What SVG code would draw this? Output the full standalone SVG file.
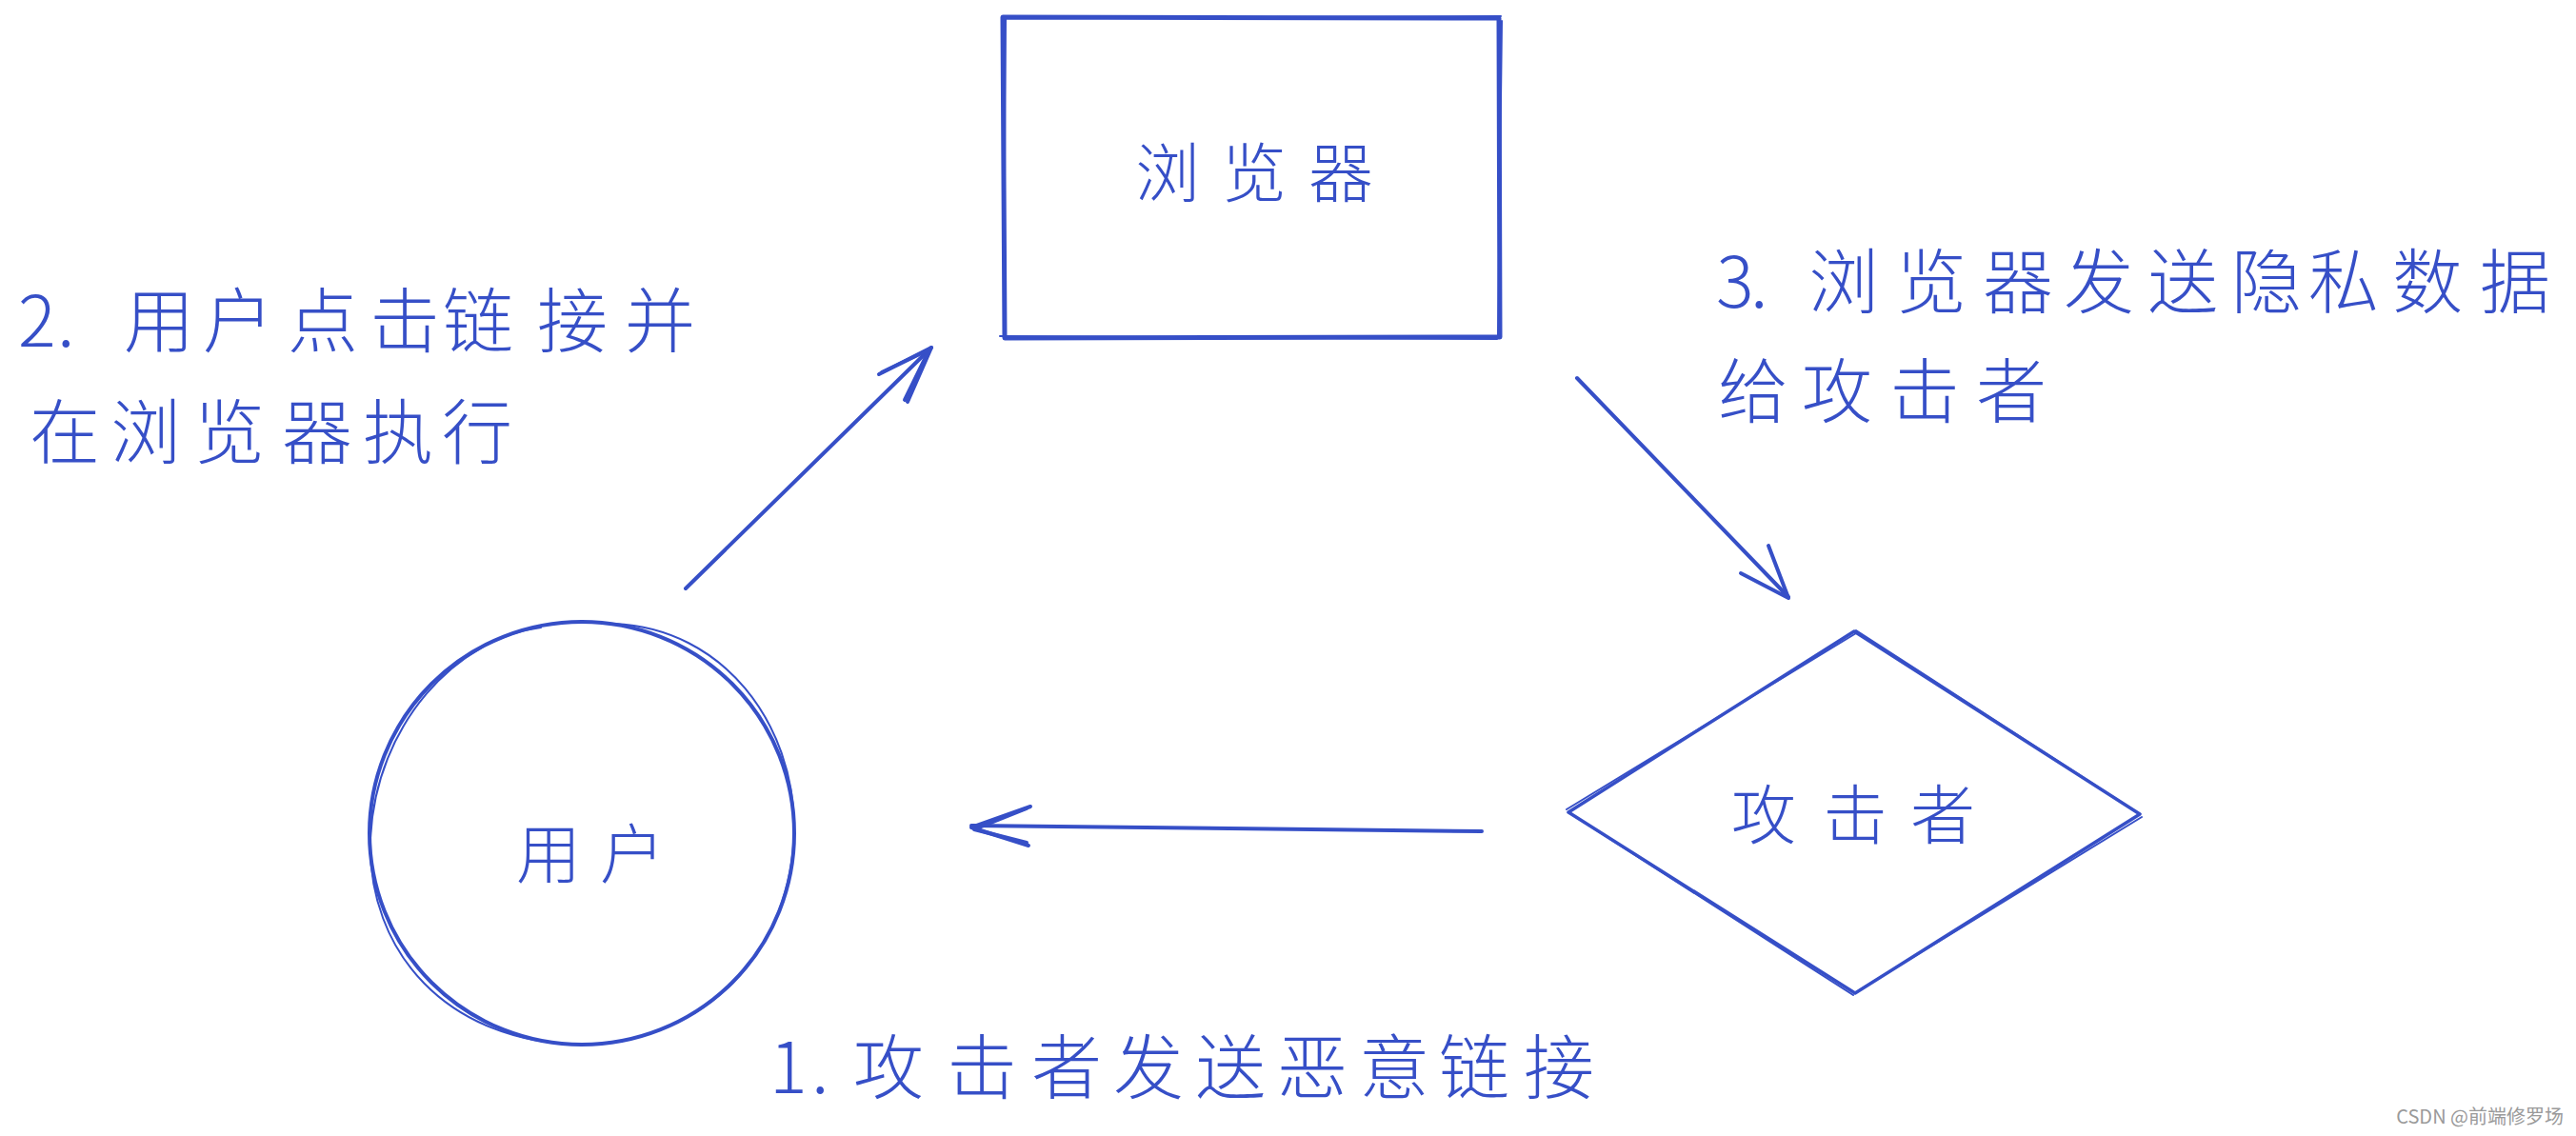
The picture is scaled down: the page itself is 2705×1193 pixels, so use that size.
<svg xmlns="http://www.w3.org/2000/svg" width="2705" height="1193" viewBox="0 0 2705 1193">
  <style>
    .shape { fill: none; stroke: #364fc7; stroke-linecap: round; stroke-linejoin: round; }
    .edge { fill: none; stroke: #364fc7; stroke-width: 4; stroke-linecap: round; stroke-linejoin: round; }
    .lbl { font-family: "Noto Sans CJK SC", "Noto Sans", sans-serif; fill: #364fc7; font-size: 74px; font-weight: 300; dominant-baseline: central; }
    .node-txt { font-family: "Noto Sans CJK SC", "Noto Sans", sans-serif; fill: #364fc7; font-size: 68px; font-weight: 300; dominant-baseline: central; }
    .wm { font-family: "Noto Sans CJK SC", "Liberation Sans", sans-serif; fill: #9a9a9a; font-size: 20px; }
  </style>
  <rect width="2705" height="1193" fill="#ffffff"/>

  <g id="browser">
    <path class="shape" stroke-width="5" d="M1053 18 L1574 19 L1575 354 L1055 355 Z"/>
    <path class="shape" stroke-width="2" d="M1056 20 L1054 350 M1052 19 L1576 17 M1577 22 L1573 352 M1050 353 L1572 356"/>
    <text class="node-txt" x="1192 1283 1374" y="177">浏览器</text>
  </g>

  <g id="user">
    <ellipse class="shape" stroke-width="4" cx="611" cy="875" rx="223" ry="222"/>
    <path class="shape" stroke-width="2" d="M568 659 C 480 670 395 760 389 880 C 385 1000 470 1095 610 1097 C 740 1095 832 1000 834 870 C 834 760 760 660 645 655"/>
    <text class="node-txt" font-size="64" x="542 630" y="892">用户</text>
  </g>

  <g id="attacker">
    <path class="shape" stroke-width="3.5" d="M1947 663 L2247 855 L1948 1043 L1647 853 Z"/>
    <path class="shape" stroke-width="2" d="M1645 850 L1949 665 M1949 662 L2244 853 M2249 858 L1952 1040 M1946 1045 L1650 855"/>
    <text class="node-txt" x="1818 1914 2006" y="851">攻击者</text>
  </g>

  <g id="connectors">
    <g id="e-user-browser">
      <path class="edge" d="M720 618 L978 365"/>
      <path class="edge" d="M923 393 L978 365 L953 422"/>
      <path class="edge" stroke-width="2.5" d="M926 391 L976 367 L950 420"/>
    </g>
    <g id="e-browser-attacker">
      <path class="edge" d="M1656 397 L1878 627"/>
      <path class="edge" d="M1828 602 L1878 628 L1857 573"/>
    </g>
    <g id="e-attacker-user">
      <path class="edge" d="M1556 873 L1020 867"/>
      <path class="edge" d="M1082 847 L1020 869 L1080 888"/>
      <path class="edge" stroke-width="2.5" d="M1078 849 L1023 871 L1078 885"/>
    </g>
  </g>

  <g id="labels">
    <text class="lbl" x="19 60 90 130 213 302 388 465 564 656" y="331">2. 用户点击链接并</text>
    <text class="lbl" x="31 116 204 296 381 464" y="448">在浏览器执行</text>
    <text class="lbl" x="1802 1838 1870 1899 1991 2082 2167 2255 2343 2424 2512 2604" y="290">3. 浏览器发送隐私数据</text>
    <text class="lbl" x="1804 1892 1984 2075" y="405">给攻击者</text>
    <text class="lbl" x="808 852 875 896 994 1083 1169 1255 1341 1427 1511 1600" y="1115">1. 攻击者发送恶意链接</text>
  </g>

  <text class="wm" x="2692" y="1180" text-anchor="end">CSDN @前端修罗场</text>
</svg>
